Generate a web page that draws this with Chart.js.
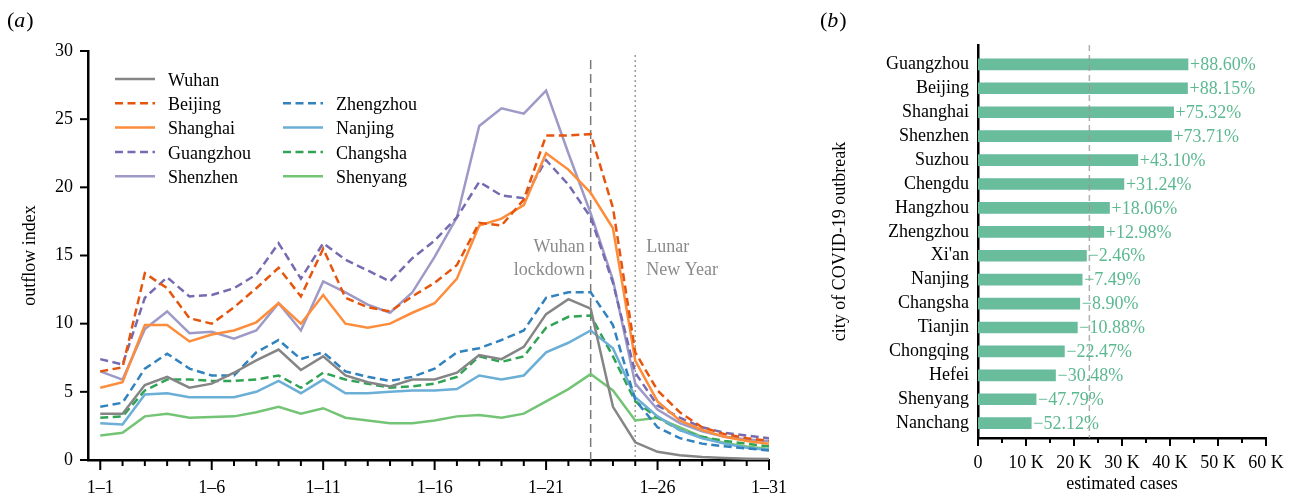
<!DOCTYPE html>
<html>
<head>
<meta charset="utf-8">
<script src="https://cdn.jsdelivr.net/npm/chart.js@4.4.1/dist/chart.umd.min.js"></script>
<style>
  body { margin: 0; background: #fff; width: 1299px; height: 493px; position: relative; overflow: hidden; }
  #flowChart { position: absolute; left: 0; top: 0; }
  #caseChart { position: absolute; left: 800px; top: 0; }
</style>
</head>
<body>
<canvas id="flowChart" width="800" height="493"></canvas>
<canvas id="caseChart" width="499" height="493"></canvas>
<script>
// (a) outflow index, 1-1 .. 1-31
const dates = ['1–1','1–2','1–3','1–4','1–5','1–6','1–7','1–8','1–9','1–10',
               '1–11','1–12','1–13','1–14','1–15','1–16','1–17','1–18','1–19','1–20',
               '1–21','1–22','1–23','1–24','1–25','1–26','1–27','1–28','1–29','1–30','1–31'];
const dateTicks = [0, 5, 10, 15, 20, 25, 30];

const wuhan     = [3.4,3.4,5.5,6.1,5.3,5.6,6.4,7.3,8.1,6.6,7.6,6.2,5.7,5.4,5.9,5.9,6.4,7.7,7.4,8.3,10.7,11.8,11.1,3.9,1.3,0.6,0.35,0.22,0.15,0.1,0.08];
const beijing   = [6.5,6.8,13.7,12.6,10.4,10.0,11.2,12.6,14.1,12.0,15.5,11.9,11.2,10.9,12.0,13.0,14.3,17.4,17.2,19.1,23.8,23.8,23.9,18.5,7.9,5.1,3.5,2.4,1.9,1.6,1.4];
const shanghai  = [5.3,5.7,9.9,9.9,8.7,9.2,9.5,10.1,11.5,10.0,12.1,10.0,9.7,10.0,10.8,11.5,13.3,17.2,17.7,18.7,22.5,21.3,19.6,17.0,7.3,4.3,2.9,2.2,1.7,1.4,1.2];
const guangzhou = [7.4,7.0,11.9,13.4,12.0,12.1,12.6,13.6,15.9,13.3,15.9,14.7,13.9,13.1,14.8,16.1,17.8,20.4,19.4,19.2,22.0,20.2,17.8,13.0,6.4,4.0,3.1,2.4,2.0,1.8,1.6];
const shenzhen  = [6.5,5.9,9.6,10.9,9.3,9.4,8.9,9.5,11.5,9.5,13.1,12.3,11.4,10.8,12.3,14.9,17.8,24.5,25.8,25.4,27.1,22.5,18.1,13.2,5.6,3.7,2.7,2.1,1.7,1.5,1.4];
const zhengzhou = [3.9,4.2,6.7,7.8,6.7,6.2,6.2,7.9,8.8,7.4,7.9,6.5,6.1,5.8,6.1,6.7,7.9,8.2,8.8,9.5,11.9,12.3,12.3,9.9,4.4,2.4,1.6,1.2,1.0,0.85,0.7];
const nanjing   = [2.7,2.6,4.8,4.9,4.6,4.6,4.6,5.0,5.8,4.9,5.9,4.9,4.9,5.0,5.1,5.1,5.2,6.2,5.9,6.2,7.9,8.6,9.5,8.2,4.6,3.2,2.2,1.6,1.2,0.9,0.75];
const changsha  = [3.1,3.2,5.1,5.9,5.9,5.8,5.8,5.9,6.2,5.3,6.4,5.9,5.6,5.3,5.4,5.6,6.1,7.6,7.2,7.6,9.7,10.5,10.6,7.6,4.3,3.1,2.2,1.7,1.4,1.2,1.0];
const shenyang  = [1.8,2.0,3.2,3.4,3.1,3.15,3.2,3.5,3.9,3.4,3.8,3.1,2.9,2.7,2.7,2.9,3.2,3.3,3.1,3.4,4.3,5.2,6.3,5.1,2.9,3.1,2.4,1.7,1.25,1.0,0.8];

const lockdownDay = 22;  // 1-23
const lunarDay = 24;     // 1-25

// (b) estimated cases
const cities = ['Guangzhou','Beijing','Shanghai','Shenzhen','Suzhou','Chengdu','Hangzhou','Zhengzhou',
                "Xi'an",'Nanjing','Changsha','Tianjin','Chongqing','Hefei','Shenyang','Nanchang'];
const cases = [43750,43650,40750,40300,33300,30400,27400,26200,22600,21700,21200,20700,18000,16150,12100,11100];
const caseChange = ['+88.60%','+88.15%','+75.32%','+73.71%','+43.10%','+31.24%','+18.06%','+12.98%',
                    '−2.46%','−7.49%','−8.90%','−10.88%','−22.47%','−30.48%','−47.79%','−52.12%'];
const wuhanRef = 23200;

const SERIF = '"Liberation Serif", "DejaVu Serif", serif';
Chart.defaults.font.family = SERIF;
Chart.defaults.font.size = 18;
Chart.defaults.color = '#000';

const flowSeries = [
    { label: 'Wuhan',     data: wuhan,     color: '#858585', dash: [] },
    { label: 'Beijing',   data: beijing,   color: '#e6550d', dash: [8, 4.5] },
    { label: 'Shanghai',  data: shanghai,  color: '#fd8d3c', dash: [] },
    { label: 'Guangzhou', data: guangzhou, color: '#756bb1', dash: [8, 4.5] },
    { label: 'Shenzhen',  data: shenzhen,  color: '#9e9ac8', dash: [] },
    { label: 'Zhengzhou', data: zhengzhou, color: '#3182bd', dash: [8, 4.5] },
    { label: 'Nanjing',   data: nanjing,   color: '#6baed6', dash: [] },
    { label: 'Changsha',  data: changsha,  color: '#31a354', dash: [8, 4.5] },
    { label: 'Shenyang',  data: shenyang,  color: '#74c476', dash: [] }
];

// draws outward tick marks on an axis
function drawTicks(ctx, scale, values, len, horizontal) {
    ctx.save();
    ctx.strokeStyle = '#000';
    ctx.lineWidth = 2;
    values.forEach(v => {
        const p = scale.getPixelForValue(v);
        const l = typeof len === 'function' ? len(v) : len;
        ctx.beginPath();
        if (horizontal) {
            ctx.moveTo(p, scale.top);
            ctx.lineTo(p, scale.top + l);
        } else {
            ctx.moveTo(scale.right, p);
            ctx.lineTo(scale.right - l, p);
        }
        ctx.stroke();
    });
    ctx.restore();
}

function drawPanelLabel(ctx, x, y, letter) {
    ctx.save();
    ctx.fillStyle = '#000';
    ctx.textBaseline = 'middle';
    ctx.font = '22px ' + SERIF;
    ctx.fillText('(', x, y);
    let w = ctx.measureText('(').width;
    ctx.font = 'italic 22px ' + SERIF;
    ctx.fillText(letter, x + w, y);
    w += ctx.measureText(letter).width + 1;
    ctx.font = '22px ' + SERIF;
    ctx.fillText(')', x + w, y);
    ctx.restore();
}

const flowDecor = {
    id: 'flowDecor',
    beforeDatasetsDraw(chart) {
        const { ctx, scales: { x, y } } = chart;
        ctx.save();
        ctx.lineWidth = 1.5;
        ctx.strokeStyle = '#7a7a7a';
        ctx.setLineDash([9, 5]);
        let px = x.getPixelForValue(lockdownDay);
        ctx.beginPath(); ctx.moveTo(px, 60); ctx.lineTo(px, y.bottom); ctx.stroke();
        ctx.strokeStyle = '#9a9a9a';
        ctx.setLineDash([2, 3]);
        px = x.getPixelForValue(lunarDay);
        ctx.beginPath(); ctx.moveTo(px, 55); ctx.lineTo(px, y.bottom); ctx.stroke();
        ctx.restore();
    },
    afterDraw(chart) {
        const { ctx, scales: { x, y } } = chart;
        drawTicks(ctx, x, dates.map((d, i) => i), v => (v % 5 === 0 ? 10 : 6), true);
        drawTicks(ctx, y, [0, 5, 10, 15, 20, 25, 30], 8, false);

        // event notes
        ctx.save();
        ctx.fillStyle = '#8a8a8a';
        ctx.font = '18px ' + SERIF;
        ctx.textBaseline = 'middle';
        ctx.textAlign = 'right';
        const lx = x.getPixelForValue(lockdownDay) - 6;
        ctx.fillText('Wuhan', lx, 247);
        ctx.fillText('lockdown', lx, 270);
        ctx.textAlign = 'left';
        const nx = x.getPixelForValue(lunarDay) + 11;
        ctx.fillText('Lunar', nx, 247);
        ctx.fillText('New Year', nx, 270);
        ctx.restore();

        // two-column legend
        ctx.save();
        ctx.font = '18px ' + SERIF;
        ctx.textBaseline = 'middle';
        chart.data.datasets.forEach((ds, i) => {
            const col = i < 5 ? 0 : 1;
            const row = i < 5 ? i : i - 4;
            const x0 = col === 0 ? 115 : 283;
            const yy = 79 + row * 24.3;
            ctx.strokeStyle = ds.borderColor;
            ctx.lineWidth = 2.5;
            ctx.setLineDash(ds.borderDash);
            ctx.beginPath(); ctx.moveTo(x0, yy); ctx.lineTo(x0 + 40, yy); ctx.stroke();
            ctx.fillStyle = '#000';
            ctx.fillText(ds.label, x0 + 53, yy + 2);
        });
        ctx.restore();

        drawPanelLabel(ctx, 7, 21, 'a');
    }
};

new Chart(document.getElementById('flowChart').getContext('2d'), {
    type: 'line',
    data: {
        datasets: flowSeries.map(s => ({
            label: s.label,
            data: s.data.map((v, i) => ({ x: i, y: v })),
            borderColor: s.color,
            borderDash: s.dash,
            borderWidth: 2.5,
            pointRadius: 0,
            tension: 0,
            fill: false
        }))
    },
    options: {
        responsive: false,
        animation: false,
        layout: { padding: { left: 0, top: 51, right: 31, bottom: 0 } },
        plugins: { legend: { display: false }, tooltip: { enabled: false } },
        scales: {
            x: {
                type: 'linear', min: -0.55, max: 30,
                grid: { display: false, drawTicks: false },
                border: { color: '#000', width: 2.5 },
                afterBuildTicks: s => { s.ticks = dateTicks.map(v => ({ value: v })); },
                ticks: { callback: v => dates[v], padding: 17, maxRotation: 0, autoSkip: false },
                afterFit: s => { s.height = 33; s.paddingLeft = 0; s.paddingRight = 0; }
            },
            y: {
                min: 0, max: 30,
                grid: { display: false, drawTicks: false },
                border: { color: '#000', width: 2.5 },
                ticks: { stepSize: 5, padding: 15 },
                title: { display: true, text: 'outflow index', padding: { top: 19, bottom: 0 } },
                afterFit: s => { s.width = 88; s.paddingTop = 0; s.paddingBottom = 0; }
            }
        }
    },
    plugins: [flowDecor]
});

const caseDecor = {
    id: 'caseDecor',
    afterDatasetsDraw(chart) {
        const { ctx, scales: { x, y } } = chart;
        ctx.save();
        ctx.strokeStyle = 'rgba(150,150,150,0.75)';
        ctx.lineWidth = 1.5;
        ctx.setLineDash([6, 4]);
        const rx = x.getPixelForValue(wuhanRef);
        ctx.beginPath(); ctx.moveTo(rx, y.top); ctx.lineTo(rx, y.bottom); ctx.stroke();
        ctx.restore();

        ctx.save();
        ctx.fillStyle = '#5cb890';
        ctx.font = '18px ' + SERIF;
        ctx.textBaseline = 'middle';
        chart.getDatasetMeta(0).data.forEach((bar, i) => {
            ctx.fillText(caseChange[i], bar.x + 2, bar.y + 1);
        });
        ctx.restore();
    },
    afterDraw(chart) {
        const { ctx, scales: { x } } = chart;
        const marks = [];
        for (let v = 0; v <= 60000; v += 5000) marks.push(v);
        drawTicks(ctx, x, marks, v => (v % 10000 === 0 ? 8 : 5), true);
        drawPanelLabel(ctx, 20, 21, 'b');
    }
};

new Chart(document.getElementById('caseChart').getContext('2d'), {
    type: 'bar',
    data: {
        datasets: [{
            data: cases.map((v, i) => ({ x: v, y: i })),
            backgroundColor: '#69bd9d',
            barThickness: 11
        }]
    },
    options: {
        indexAxis: 'y',
        responsive: false,
        animation: false,
        layout: { padding: { left: 0, top: 45, right: 33, bottom: 0 } },
        plugins: { legend: { display: false }, tooltip: { enabled: false } },
        scales: {
            x: {
                type: 'linear', min: 0, max: 60000,
                grid: { display: false, drawTicks: false },
                border: { color: '#000', width: 2.5 },
                ticks: { stepSize: 10000, padding: 14, maxRotation: 0, callback: v => (v === 0 ? '0' : (v / 1000) + ' K') },
                title: { display: true, text: 'estimated cases', font: { lineHeight: 1 }, padding: 0 },
                afterFit: s => { s.height = 55; s.paddingLeft = 0; s.paddingRight = 0; }
            },
            y: {
                type: 'linear', reverse: true, min: -0.81, max: 15.62, offset: false,
                grid: { display: false, drawTicks: false },
                border: { color: '#000', width: 2.5 },
                afterBuildTicks: s => { s.ticks = cities.map((c, i) => ({ value: i })); },
                ticks: { callback: v => cities[v], padding: 9, autoSkip: false },
                title: { display: true, text: 'city of COVID-19 outbreak', padding: { top: 29, bottom: 0 } },
                afterFit: s => { s.width = 178; s.paddingTop = 0; s.paddingBottom = 0; }
            }
        }
    },
    plugins: [caseDecor]
});
</script>
</body>
</html>
